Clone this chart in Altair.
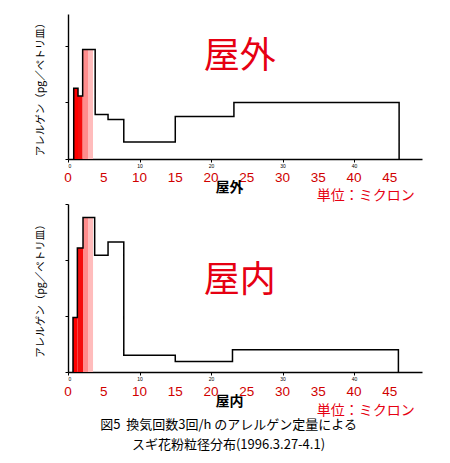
import altair as alt
import pandas as pd

# ---------------- data ----------------
x_ticks = [0, 5, 10, 15, 20, 25, 30, 35, 40, 45]

# 屋外 (outdoor): step outline (bin edges, heights)
out_edges = [0.8, 1.4, 2.05, 3.8, 5.6, 7.8, 15.0, 23.2, 46.3]
out_values = [500, 445, 775, 315, 280, 120, 300, 400]
# filled coloured bars
out_bar_x0 = [0.8, 1.4, 2.05, 2.8]
out_bar_x1 = [1.4, 2.05, 2.8, 3.5]
out_bar_h = [500, 445, 775, 775]

# 屋内 (indoor)
in_edges = [0.7, 1.31, 2.1, 3.73, 5.6, 7.8, 15.0, 23.0, 46.2]
in_values = [390, 888, 1105, 836, 930, 120, 75, 160]
in_bar_x0 = [0.7, 1.31, 2.1, 2.8]
in_bar_x1 = [1.31, 2.1, 2.8, 3.5]
in_bar_h = [390, 888, 1105, 1105]

bar_colors = ["#ff0000", "#f40c0c", "#ff8c8c", "#ffbcbc"]

y_title = "アレルゲン（pg／ペトリ皿）"
caption = ["図5\u00a0\u00a0換気回数3回/h\u00a0のアレルゲン定量による",
           "スギ花粉粒径分布(1996.3.27-4.1)"]

JP = "Noto Sans CJK JP"
RED = "#e60012"


def step_points(edges, values):
    xs, ys = [edges[0]], [0]
    for i, v in enumerate(values):
        xs += [edges[i], edges[i + 1]]
        ys += [v, v]
    xs.append(edges[-1])
    ys.append(0)
    return xs, ys


def step_frame(edges, values):
    xs, ys = step_points(edges, values)
    return pd.DataFrame({"x": xs, "y": ys, "o": list(range(len(xs)))})


def panel(edges, values, bx0, bx1, bh, ymax, ytick_max, height,
          big, big_y, xtitle, xtitle_y, red_y, unit_y):
    xs = alt.Scale(domain=[0, 49.5], nice=False, zero=False)
    ys = alt.Scale(domain=[0, ymax], nice=False)
    xaxis = alt.Axis(values=x_ticks, title=None, grid=False,
                     labelFontSize=5, labelPadding=1, tickSize=3,
                     domainColor="black", tickColor="black", domainWidth=1.4,
                     labelColor="black",
                     labelExpr="datum.value == 45 ? '45 (μm)' : datum.label")
    yaxis = alt.Axis(values=list(range(0, ytick_max + 1, 100)), title=y_title,
                     grid=False, labelFontSize=6, labelPadding=2, tickSize=3,
                     domainColor="black", tickColor="black", domainWidth=1.4,
                     labelColor="black",
                     labelExpr="(datum.value == 500 || datum.value == 1000) ? datum.label : ''",
                     titleFont=JP, titleFontSize=10.5, titleFontWeight="normal",
                     titlePadding=18, titleColor="black")

    bars = alt.Chart(pd.DataFrame({"x": bx0, "x2": bx1, "y": [0] * len(bh),
                                   "y2": bh, "c": bar_colors})).mark_rect().encode(
        x=alt.X("x:Q", scale=xs, axis=xaxis),
        x2="x2:Q",
        y=alt.Y("y:Q", scale=ys, axis=yaxis),
        y2="y2:Q",
        color=alt.Color("c:N", scale=None),
    )
    line = alt.Chart(step_frame(edges, values)).mark_line(
        color="black", strokeWidth=1.5).encode(
        x=alt.X("x:Q", scale=xs), y=alt.Y("y:Q", scale=ys), order="o:Q")
    red_labels = alt.Chart(pd.DataFrame({"x": x_ticks, "y": [red_y] * len(x_ticks),
                                         "t": [str(v) for v in x_ticks]})).mark_text(
        font="Liberation Sans Narrow, Liberation Sans", fontSize=13.5,
        color="#d00000", baseline="middle", align="center").encode(
        x=alt.X("x:Q", scale=xs), y=alt.Y("y:Q", scale=ys), text="t:N")
    big_text = alt.Chart(pd.DataFrame({"x": [24.0], "y": [big_y], "t": [big]})).mark_text(
        font=JP, fontSize=36, color=RED, baseline="middle", align="center").encode(
        x=alt.X("x:Q", scale=xs), y=alt.Y("y:Q", scale=ys), text="t:N")
    xt = alt.Chart(pd.DataFrame({"x": [22.6], "y": [xtitle_y], "t": [xtitle]})).mark_text(
        font=JP, fontSize=14, fontWeight="bold", color="black",
        baseline="middle", align="center").encode(
        x=alt.X("x:Q", scale=xs), y=alt.Y("y:Q", scale=ys), text="t:N")
    unit = alt.Chart(pd.DataFrame({"x": [34.8], "y": [unit_y], "t": ["単位：ミクロン"]})).mark_text(
        font=JP, fontSize=14, color=RED, baseline="middle", align="left").encode(
        x=alt.X("x:Q", scale=xs), y=alt.Y("y:Q", scale=ys), text="t:N")
    return alt.layer(bars, line, red_labels, big_text, xt, unit).properties(
        width=354, height=height)


top = panel(out_edges, out_values, out_bar_x0, out_bar_x1, out_bar_h,
            ymax=1026, ytick_max=1000, height=145,
            big="屋外", big_y=724, xtitle="屋外", xtitle_y=-203,
            red_y=-132, unit_y=-262)
bottom = panel(in_edges, in_values, in_bar_x0, in_bar_x1, in_bar_h,
               ymax=1202, ytick_max=1200, height=168,
               big="屋内", big_y=651, xtitle="屋内", xtitle_y=-215,
               red_y=-143, unit_y=-282)

chart = alt.vconcat(top, bottom, spacing=45, bounds="flush").properties(
    title=alt.TitleParams(text=caption, orient="bottom", anchor="middle",
                          font=JP, fontSize=13, fontWeight="normal",
                          lineHeight=20, color="black", offset=1),
    padding={"left": 34, "top": 14, "right": 5, "bottom": 5},
    background="white",
).configure_view(stroke=None)

chart.save("out.html", embed_options={"renderer": "svg", "actions": False})
